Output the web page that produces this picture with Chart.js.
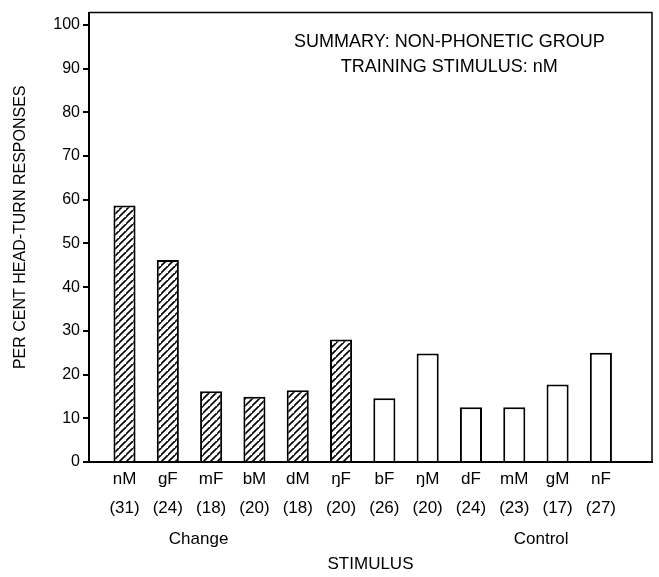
<!DOCTYPE html>
<html>
<head>
<meta charset="utf-8">
<script src="https://cdn.jsdelivr.net/npm/chart.js@4.4.0/dist/chart.umd.min.js"></script>
<style>
  html, body { margin: 0; padding: 0; background: #fff; }
  #wrap { width: 659px; height: 577px; }
</style>
</head>
<body>
<div id="wrap"><canvas id="c" width="659" height="577"></canvas></div>
<script>
// Stimulus categories, trial counts and per-cent head-turn responses
const stimuli = ['nM', 'gF', 'mF', 'bM', 'dM', 'ŋF', 'bF', 'ŋM', 'dF', 'mM', 'gM', 'nF'];
const trialCounts = ['(31)', '(24)', '(18)', '(20)', '(18)', '(20)', '(26)', '(20)', '(24)', '(23)', '(17)', '(27)'];
const percentHeadTurn = [58.7, 46.2, 16.2, 14.9, 16.4, 28.0, 14.6, 24.8, 12.5, 12.5, 17.7, 25.0];
const isChange = [true, true, true, true, true, true, false, false, false, false, false, false];
const yTickValues = [0, 10, 20, 30, 40, 50, 60, 70, 80, 90, 100];
const groupLabels = ['Change', 'Control'];
const titleLines = ['SUMMARY: NON-PHONETIC GROUP', 'TRAINING STIMULUS: nM'];
const xTitle = 'STIMULUS';
const yTitle = 'PER CENT HEAD-TURN RESPONSES';

const FONT = '"Liberation Sans", Arial, Helvetica, sans-serif';

// Diagonal hatch used for the "change" stimuli
function makeHatch() {
  const s = 7;
  const p = document.createElement('canvas');
  p.width = s; p.height = s;
  const g = p.getContext('2d');
  g.fillStyle = '#fff';
  g.fillRect(0, 0, s, s);
  g.strokeStyle = '#000';
  g.lineWidth = 1.6;
  g.beginPath();
  g.moveTo(-1, s + 1); g.lineTo(s + 1, -1);
  g.moveTo(-1 - s, s + 1); g.lineTo(1, -1);
  g.moveTo(s - 1, 2 * s + 1); g.lineTo(2 * s + 1, s - 1);
  g.stroke();
  return g.createPattern(p, 'repeat');
}

const ctx = document.getElementById('c').getContext('2d');
const hatch = makeHatch();

// Box frame on top/right plus the free-standing annotations
const annotations = {
  id: 'annotations',
  afterDraw(chart) {
    const { ctx, chartArea: a, scales } = chart;
    ctx.save();
    ctx.strokeStyle = '#000';
    ctx.lineWidth = 1.5;
    ctx.beginPath();
    ctx.moveTo(a.left, a.top);
    ctx.lineTo(a.right, a.top);
    ctx.lineTo(a.right, a.bottom);
    ctx.stroke();

    ctx.fillStyle = '#000';
    ctx.textAlign = 'center';
    ctx.textBaseline = 'middle';
    ctx.font = '18px ' + FONT;
    const tx = scales.x.getPixelForValue(7.5);
    ctx.fillText(titleLines[0], tx, a.top + 29);
    ctx.fillText(titleLines[1], tx, a.top + 54);

    ctx.font = '17px ' + FONT;
    ctx.fillText(groupLabels[0], scales.x.getPixelForValue(1.71), a.bottom + 77);
    ctx.fillText(groupLabels[1], scales.x.getPixelForValue(9.62), a.bottom + 77);
    ctx.fillText(xTitle, (a.left + a.right) / 2, a.bottom + 102);

    ctx.font = '16px ' + FONT;
    ctx.translate(21, (a.top + a.bottom) / 2 - 10);
    ctx.rotate(-Math.PI / 2);
    ctx.fillText(yTitle, 0, 0);
    ctx.restore();
  }
};

new Chart(ctx, {
  type: 'bar',
  data: {
    datasets: [{
      data: percentHeadTurn.map((v, i) => ({ x: i, y: v })),
      backgroundColor: isChange.map(c => c ? hatch : '#fff'),
      borderColor: '#000',
      borderWidth: 2,
      borderSkipped: 'bottom',
      categoryPercentage: 1,
      barPercentage: 0.51
    }]
  },
  options: {
    responsive: false,
    animation: false,
    devicePixelRatio: 1,
    layout: { padding: { top: 11, right: 7, left: 0, bottom: 0 } },
    plugins: { legend: { display: false }, tooltip: { enabled: false }, title: { display: false } },
    scales: {
      x: {
        type: 'linear',
        offset: false,
        min: -0.82,
        max: 12.18,
        afterBuildTicks: s => { s.ticks = stimuli.map((_, i) => ({ value: i })); },
        afterFit: s => { s.height = 115; },
        grid: { display: false, drawTicks: false, offset: false },
        border: { display: true, color: '#000', width: 2 },
        ticks: {
          autoSkip: false,
          maxRotation: 0,
          padding: 3,
          color: '#000',
          font: { family: FONT, size: 17, lineHeight: 1.7 },
          callback: v => [stimuli[v], trialCounts[v]]
        }
      },
      y: {
        min: 0,
        max: 102.8,
        afterBuildTicks: s => { s.ticks = yTickValues.map(v => ({ value: v })); },
        afterFit: s => { s.width = 89; },
        grid: { drawOnChartArea: false, drawTicks: true, tickLength: 6, color: '#000', lineWidth: 2 },
        border: { display: true, color: '#000', width: 2 },
        ticks: {
          padding: 3,
          color: '#000',
          font: { family: FONT, size: 16 }
        }
      }
    }
  },
  plugins: [annotations]
});
</script>
</body>
</html>
